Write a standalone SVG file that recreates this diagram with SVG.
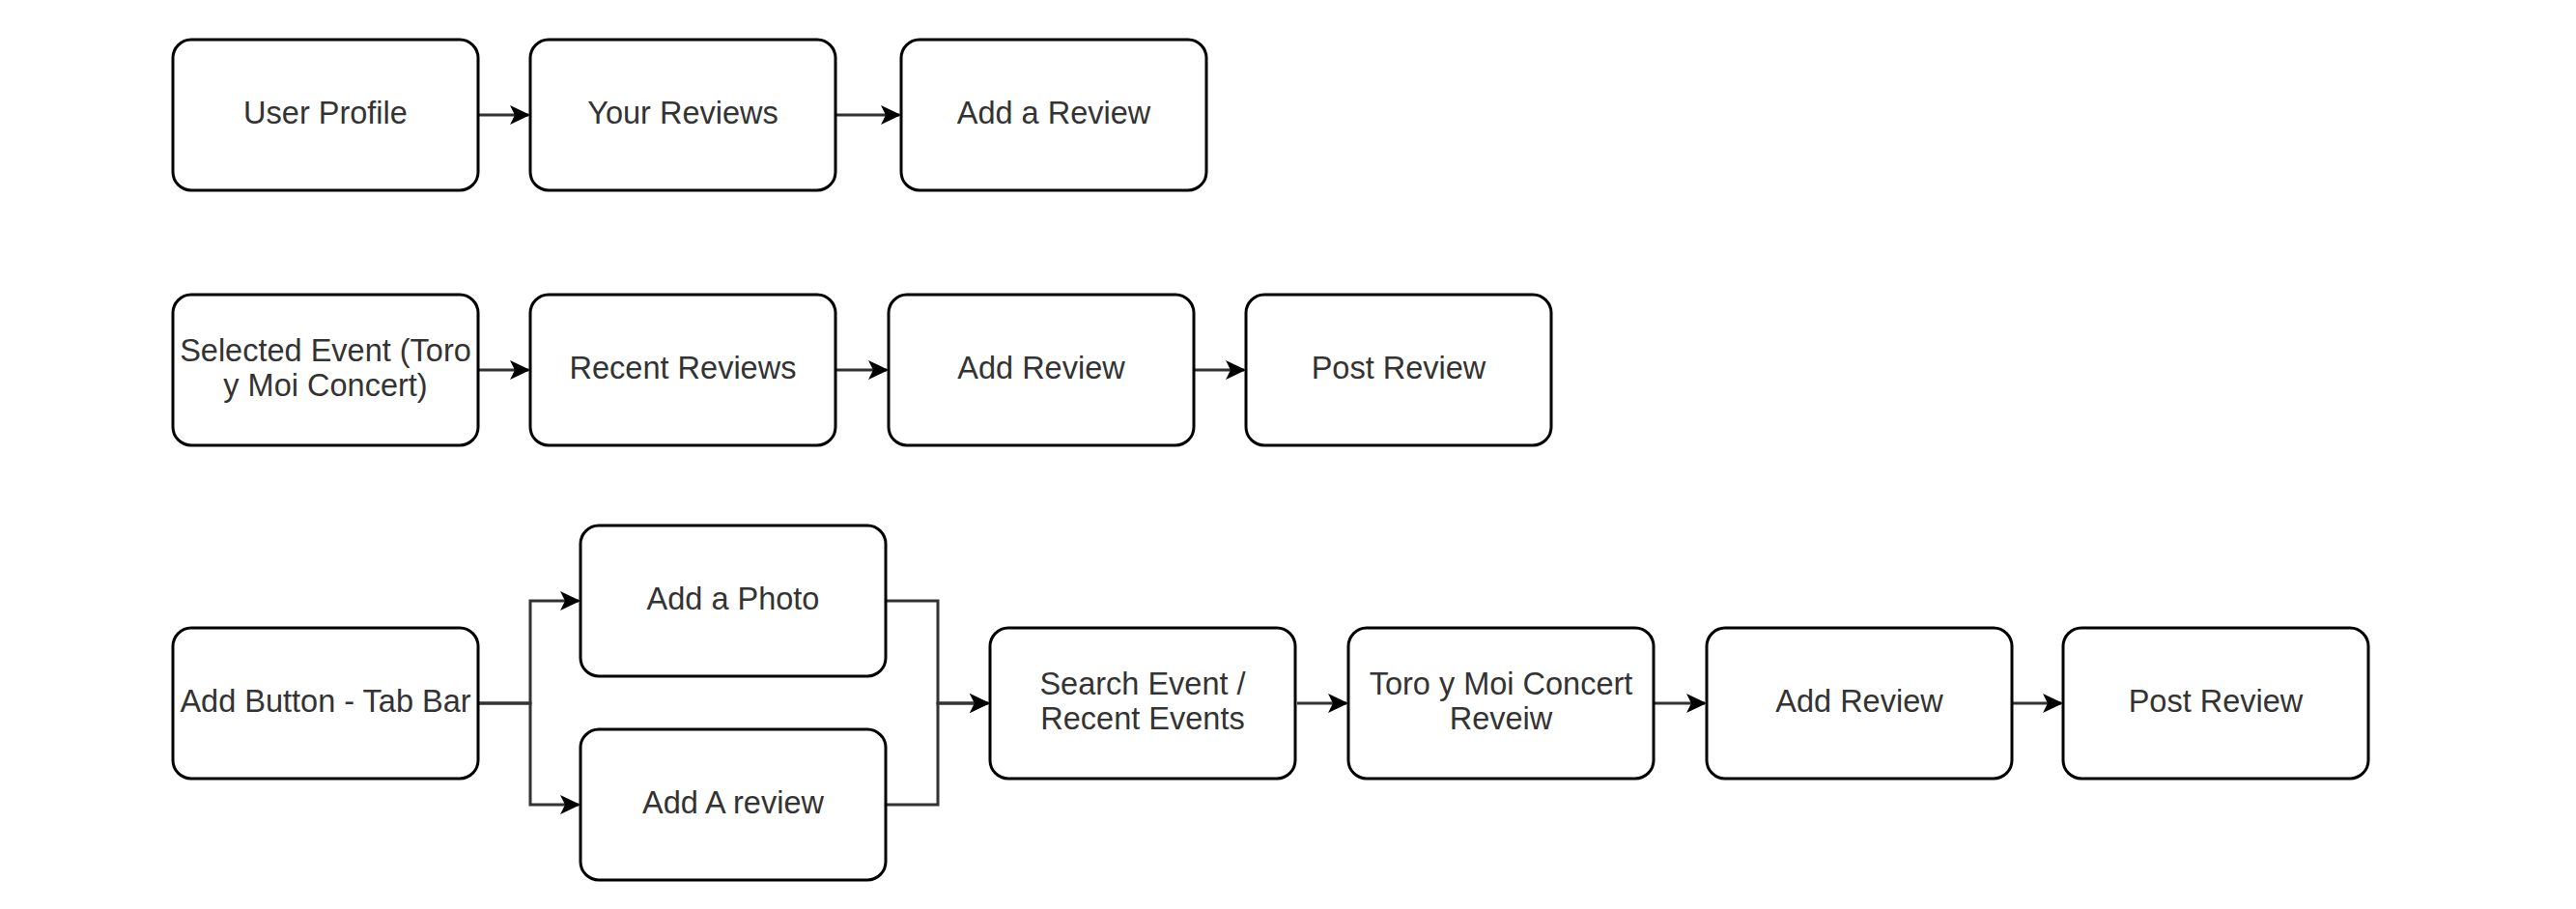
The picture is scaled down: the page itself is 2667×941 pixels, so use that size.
<svg xmlns="http://www.w3.org/2000/svg" width="2667" height="941" viewBox="0 0 2667 941">
<defs>
<style>
.box{fill:#fff;stroke:#000;stroke-width:3}
.lbl{font-family:"Liberation Sans",Arial,sans-serif;font-size:32.5px;fill:#333;text-anchor:middle}
.edge{fill:none;stroke:#333;stroke-width:3}
</style>
<marker id="arr" markerUnits="userSpaceOnUse" markerWidth="22" markerHeight="22" viewBox="0 0 22 22" refX="19" refY="11" orient="auto">
<path d="M0,1 L21,11 L0,21 L5,11 Z" fill="#000"/>
</marker>
</defs>
<rect width="2667" height="941" fill="#fff"/>
<g id="connectors">
<path class="edge" d="M496,119 H547" marker-end="url(#arr)"/>
<path class="edge" d="M866,119 H931" marker-end="url(#arr)"/>
<path class="edge" d="M496,383 H547" marker-end="url(#arr)"/>
<path class="edge" d="M866,383 H918" marker-end="url(#arr)"/>
<path class="edge" d="M1237,383 H1288" marker-end="url(#arr)"/>
<path class="edge" d="M496,728 H549 V622 H599" marker-end="url(#arr)"/>
<path class="edge" d="M496,728 H549 V833 H599" marker-end="url(#arr)"/>
<path class="edge" d="M918,622 H971 V728 H1023" marker-end="url(#arr)"/>
<path class="edge" d="M918,833 H971 V728 H1023" marker-end="url(#arr)"/>
<path class="edge" d="M1343,728 H1394" marker-end="url(#arr)"/>
<path class="edge" d="M1713,728 H1765" marker-end="url(#arr)"/>
<path class="edge" d="M2084,728 H2134" marker-end="url(#arr)"/>
</g>
<g id="user-profile"><rect class="box" x="179" y="41" width="316" height="156" rx="19"/><text class="lbl" x="337" y="128">User Profile</text></g>
<g id="your-reviews"><rect class="box" x="549" y="41" width="316" height="156" rx="19"/><text class="lbl" x="707" y="128">Your Reviews</text></g>
<g id="add-a-review"><rect class="box" x="933" y="41" width="316" height="156" rx="19"/><text class="lbl" x="1091" y="128">Add a Review</text></g>

<g id="selected-event"><rect class="box" x="179" y="305" width="316" height="156" rx="19"/><text class="lbl" x="337" y="374">Selected Event (Toro</text><text class="lbl" x="337" y="410">y Moi Concert)</text></g>
<g id="recent-reviews"><rect class="box" x="549" y="305" width="316" height="156" rx="19"/><text class="lbl" x="707" y="392">Recent Reviews</text></g>
<g id="add-review-1"><rect class="box" x="920" y="305" width="316" height="156" rx="19"/><text class="lbl" x="1078" y="392">Add Review</text></g>
<g id="post-review-1"><rect class="box" x="1290" y="305" width="316" height="156" rx="19"/><text class="lbl" x="1448" y="392">Post Review</text></g>

<g id="add-button"><rect class="box" x="179" y="650" width="316" height="156" rx="19"/><text class="lbl" x="337" y="737">Add Button - Tab Bar</text></g>
<g id="add-a-photo"><rect class="box" x="601" y="544" width="316" height="156" rx="19"/><text class="lbl" x="759" y="631">Add a Photo</text></g>
<g id="add-a-review-2"><rect class="box" x="601" y="755" width="316" height="156" rx="19"/><text class="lbl" x="759" y="842">Add A review</text></g>
<g id="search-event"><rect class="box" x="1025" y="650" width="316" height="156" rx="19"/><text class="lbl" x="1183" y="719">Search Event /</text><text class="lbl" x="1183" y="755">Recent Events</text></g>
<g id="toro-review"><rect class="box" x="1396" y="650" width="316" height="156" rx="19"/><text class="lbl" x="1554" y="719">Toro y Moi Concert</text><text class="lbl" x="1554" y="755">Reveiw</text></g>
<g id="add-review-2"><rect class="box" x="1767" y="650" width="316" height="156" rx="19"/><text class="lbl" x="1925" y="737">Add Review</text></g>
<g id="post-review-2"><rect class="box" x="2136" y="650" width="316" height="156" rx="19"/><text class="lbl" x="2294" y="737">Post Review</text></g>
</svg>
